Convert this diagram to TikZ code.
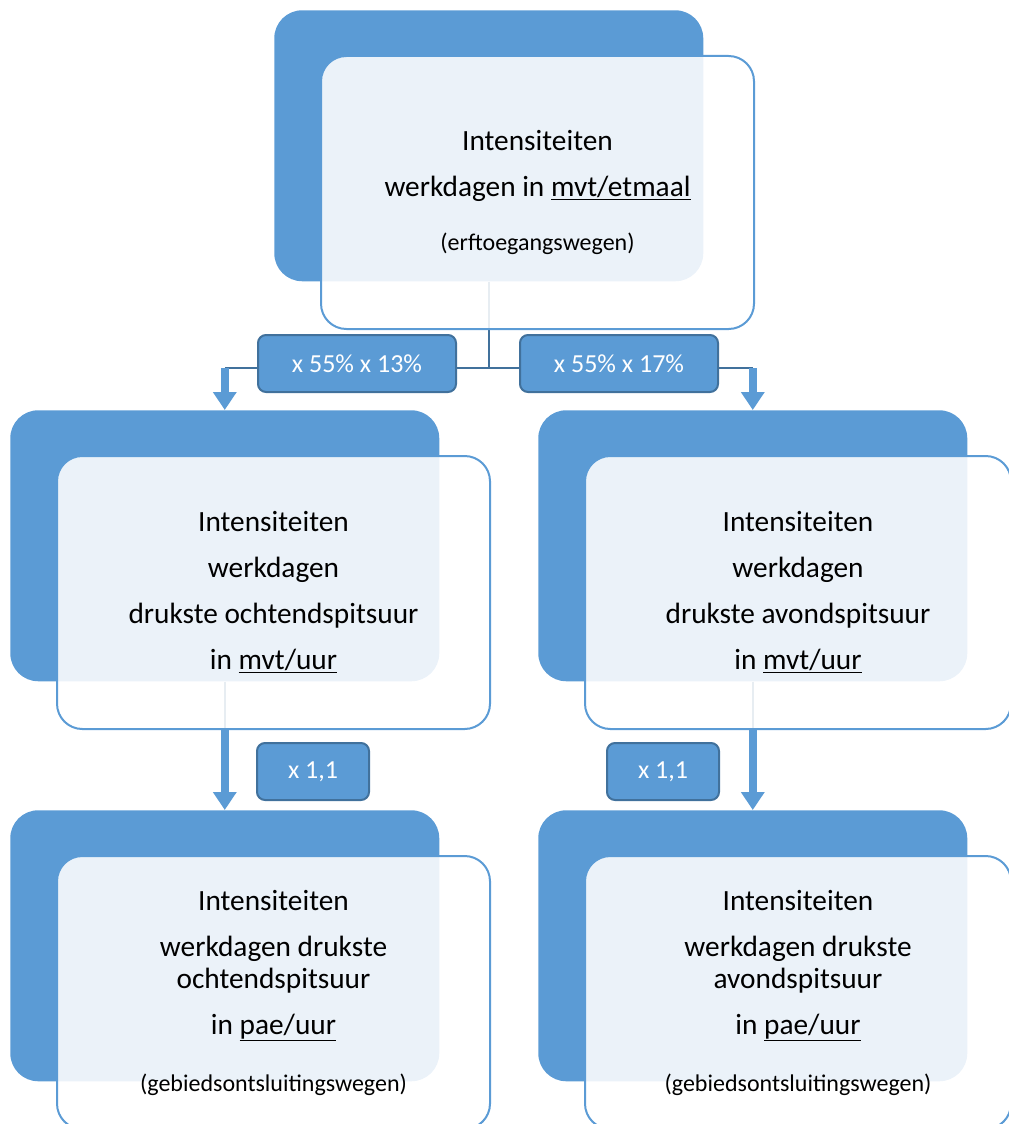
\documentclass[tikz,border=0pt]{standalone}
\usepackage{fontspec}
\setmainfont{Carlito}
\usetikzlibrary{positioning,arrows.meta,backgrounds}
\definecolor{smartblue}{HTML}{5B9BD5}
\definecolor{smartdark}{HTML}{41719C}
\newcommand\bigtxt{\fontsize{22pt}{34.5pt}\selectfont}
\newcommand\subtxt{\fontsize{18pt}{22pt}\selectfont}
\newcommand\tagtxt{\fontsize{19.5pt}{22pt}\selectfont}
\tikzset{
  backbox/.style  = {fill=smartblue, rounded corners=21pt, anchor=north west,
                     inner sep=0pt, minimum width=321.75pt, minimum height=203.25pt},
  frontbox/.style = {draw=smartblue, line width=1.5pt, fill=white, fill opacity=0.88,
                     text opacity=1, rounded corners=19pt, align=center, font=\bigtxt,
                     inner sep=0pt, minimum width=324.75pt, minimum height=204.75pt},
  narrowbox/.style= {frontbox, minimum width=319.5pt},
  factor/.style   = {draw=smartdark, line width=1.5pt, fill=smartblue, rounded corners=6pt,
                     text=white, font=\tagtxt, minimum height=42.75pt},
  link/.style     = {draw=smartdark, line width=1.5pt},
  flow/.style     = {-{Triangle[width=17pt,length=13.5pt]}, draw=smartblue, line width=6pt},
}

\begin{document}
\begin{tikzpicture}[x=0.75pt, y=-0.75pt]
  \useasboundingbox (0,0) rectangle (1009,1124);
  \clip (0,0) rectangle (1009,1124);
  \coordinate (forkrow) at (0,368);

  % top: daily volumes
  \node[backbox] (dayback) at (274,10) {};
  \node[frontbox, below right=33.75pt and 34.5pt of dayback.north west] (dayfront)
       {Intensiteiten\\ werkdagen in \underline{mvt/etmaal}\\[6.5pt]
        {\subtxt (erftoegangswegen)}};

  % middle: peak hours in mvt
  \node[backbox] (amback) at (10,410) {};
  \node[frontbox, below right=33.75pt and 34.5pt of amback.north west] (amfront)
       {Intensiteiten\\ werkdagen\\ drukste ochtendspitsuur\\ in \underline{mvt/uur}};
  \node[backbox] (pmback) at (538,410) {};
  \node[narrowbox, below right=33.75pt and 34.5pt of pmback.north west] (pmfront)
       {Intensiteiten\\ werkdagen\\ drukste avondspitsuur\\ in \underline{mvt/uur}};

  % bottom: peak hours in pae
  \node[backbox] (amaeback) at (10,810) {};
  \node[frontbox, below right=33.75pt and 34.5pt of amaeback.north west] (amaefront)
       {Intensiteiten\\ werkdagen drukste\\[-10.5pt] ochtendspitsuur\\ in \underline{pae/uur}\\[8.25pt]
        {\subtxt (gebiedsontsluitingswegen)}};
  \node[backbox] (pmaeback) at (538,810) {};
  \node[narrowbox, below right=33.75pt and 34.5pt of pmaeback.north west] (pmaefront)
       {Intensiteiten\\ werkdagen drukste\\[-10.5pt] avondspitsuur\\ in \underline{pae/uur}\\[8.25pt]
        {\subtxt (gebiedsontsluitingswegen)}};

  % factors
  \node[factor, minimum width=148.5pt] (amshare) at (357,363.5) {x 55\% x 13\%};
  \node[factor, minimum width=148.5pt] (pmshare) at (619,363.5) {x 55\% x 17\%};
  \node[factor, minimum width=84pt] (amconv) at (313,771.5) {x 1,1};
  \node[factor, minimum width=84pt] (pmconv) at (663,771.5) {x 1,1};

  \begin{scope}[on background layer]
    \draw[link] (dayback.south) -- (dayback.south |- forkrow);
    \draw[link] (amback.north |- forkrow) -- (pmback.north |- forkrow);
    \draw[link] (amback.south) -- (amback.south |- amfront.south);
    \draw[link] (pmback.south) -- (pmback.south |- pmfront.south);
  \end{scope}

  \draw[flow] (amback.north |- forkrow) -- (amback.north);
  \draw[flow] (pmback.north |- forkrow) -- (pmback.north);
  \draw[flow] (amback.south |- amfront.south) -- (amaeback.north);
  \draw[flow] (pmback.south |- pmfront.south) -- (pmaeback.north);
\end{tikzpicture}
\end{document}
